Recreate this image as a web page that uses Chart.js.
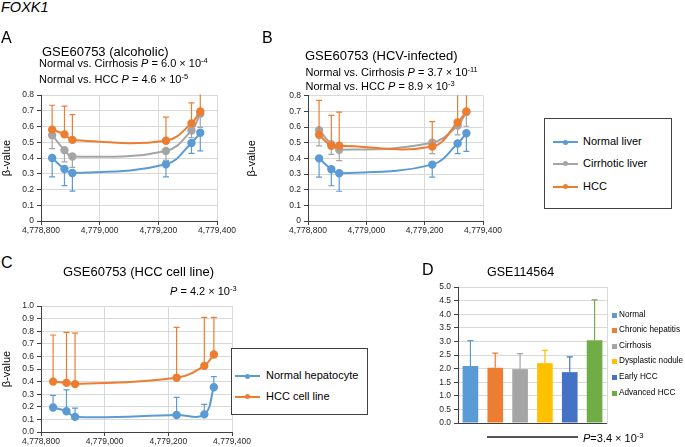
<!DOCTYPE html>
<html>
<head>
<meta charset="utf-8">
<script src="https://cdn.jsdelivr.net/npm/chart.js@4.4.0/dist/chart.umd.min.js"></script>
<style>
  body { margin: 0; background: #fff; }
  #page { position: relative; width: 685px; height: 447px; overflow: hidden; font-family: "Liberation Sans", Arial, sans-serif; color: #000; }
  canvas { position: absolute; }
  .t { position: absolute; white-space: nowrap; line-height: 1; }
  sup { font-size: 0.68em; line-height: 0; vertical-align: 0.5em; }
  .box { position: absolute; border: 1px solid #404040; background: #fff; box-sizing: border-box; }
  .item { position: absolute; line-height: 1; white-space: nowrap; }
</style>
</head>
<body>
<div id="page">
  <canvas id="cA" width="245" height="155" style="left:0;top:85px"></canvas>
  <canvas id="cB" width="265" height="155" style="left:245px;top:85px"></canvas>
  <canvas id="cC" width="258" height="151" style="left:0;top:296px"></canvas>
  <canvas id="cD" width="195" height="160" style="left:420px;top:277px"></canvas>

  <div class="t" style="left:1px;top:0;font-size:14.5px;font-style:italic">FOXK1</div>

  <div class="t" style="left:1px;top:30px;font-size:16px">A</div>
  <div class="t" style="left:42px;top:45px;font-size:13px">GSE60753 (alcoholic)</div>
  <div class="t" style="left:39px;top:57.5px;font-size:11px">Normal vs. Cirrhosis <i>P</i> = 6.0 × 10<sup>-4</sup></div>
  <div class="t" style="left:39px;top:73.5px;font-size:11px">Normal vs. HCC <i>P</i> = 4.6 × 10<sup>-5</sup></div>

  <div class="t" style="left:262px;top:30px;font-size:16px">B</div>
  <div class="t" style="left:305px;top:48.5px;font-size:13px">GSE60753 (HCV-infected)</div>
  <div class="t" style="left:305.5px;top:66.5px;font-size:11px">Normal vs. Cirrhosis <i>P</i> = 3.7 × 10<sup>-11</sup></div>
  <div class="t" style="left:305.5px;top:81px;font-size:11px">Normal vs. HCC <i>P</i> = 8.9 × 10<sup>-3</sup></div>

  <div class="t" style="left:1px;top:255px;font-size:16px">C</div>
  <div class="t" style="left:63px;top:264.5px;font-size:13px">GSE60753 (HCC cell line)</div>
  <div class="t" style="left:170px;top:286px;font-size:11px"><i>P</i> = 4.2 × 10<sup>-3</sup></div>

  <div class="t" style="left:422px;top:262px;font-size:16px">D</div>
  <div class="t" style="left:487px;top:265.5px;font-size:12.5px">GSE114564</div>
  <div style="position:absolute;left:487px;top:436px;width:91px;height:1.5px;background:#555"></div>
  <div class="t" style="left:583px;top:432.5px;font-size:11px"><i>P</i>=3.4 × 10<sup>-3</sup></div>

  <div class="box" id="legAB" style="left:544px;top:118px;width:128px;height:91px"></div>
  <div class="box" id="legC" style="left:231px;top:348px;width:137px;height:67px"></div>
  <div id="legD" style="position:absolute;left:610px;top:308px;width:75px;height:95px"></div>
</div>
<script>
// CpG positions (bp) shared by panels A-C
const positions = [4778838, 4778880, 4778907, 4779226, 4779313, 4779343];
const xTickValues = [4778800, 4779000, 4779200, 4779400];
const yTicksAB = [0, 0.1, 0.2, 0.3, 0.4, 0.5, 0.6, 0.7, 0.8];
const yTicksC = [0, 0.1, 0.2, 0.3, 0.4, 0.5, 0.6, 0.7, 0.8, 0.9, 1.0];
const yTicksD = [0, 0.5, 1, 1.5, 2, 2.5, 3, 3.5, 4, 4.5, 5];

// A: alcoholic
const normalA = [0.40, 0.33, 0.305, 0.36, 0.495, 0.56];
const normalAErr = [0.12, 0.105, 0.115, 0.08, 0.065, 0.115];
const cirrhoticA = [0.545, 0.45, 0.41, 0.445, 0.575, 0.68];
const cirrhoticAErr = [0.085, 0.075, 0.07, 0.06, 0.045, 0.085];
const hccA = [0.58, 0.55, 0.515, 0.51, 0.62, 0.695];
const hccAErr = [0.155, 0.18, 0.16, 0.15, 0.13, 0.15];

// B: HCV-infected
const normalB = [0.40, 0.33, 0.305, 0.36, 0.495, 0.56];
const normalBErr = [0.12, 0.105, 0.115, 0.08, 0.065, 0.115];
const cirrhoticB = [0.58, 0.49, 0.455, 0.50, 0.61, 0.695];
const cirrhoticBErr = [0.10, 0.065, 0.07, 0.07, 0.06, 0.09];
const hccB = [0.55, 0.48, 0.48, 0.475, 0.63, 0.70];
const hccBErr = [0.22, 0.195, 0.215, 0.16, 0.25, 0.25];

// C: cell lines
const hepatocyteC = [0.195, 0.165, 0.12, 0.135, 0.14, 0.355];
const hepatocyteCErr = [0.095, 0.17, 0.07, 0.14, 0.08, 0.085];
const cellLineC = [0.40, 0.39, 0.38, 0.43, 0.525, 0.615];
const cellLineCErr = [0.37, 0.40, 0.405, 0.40, 0.385, 0.295];

// D: GSE114564
const groups = ['Normal', 'Chronic hepatitis', 'Cirrhosis', 'Dysplastic nodule', 'Early HCC', 'Advanced HCC'];
const groupValues = [2.1, 2.03, 1.98, 2.2, 1.87, 3.04];
const groupErr = [0.93, 0.54, 0.57, 0.47, 0.56, 1.49];
const groupColors = ['#5B9BD5', '#ED7D31', '#A5A5A5', '#FFC000', '#4472C4', '#70AD47'];

const BLUE = '#5B9BD5', GRAY = '#A5A5A5', ORANGE = '#ED7D31';
const gridColor = '#d9d9d9', axisColor = '#404040', tickColor = '#262626';
const tickFont = { size: 8.5 };

Chart.defaults.font.family = '"Liberation Sans", Arial, sans-serif';

// draws one-sided error bars with each dataset
const errorBars = {
  id: 'errorBars',
  afterDatasetDraw(chart, args) {
    const ds = chart.data.datasets[args.index];
    if (!ds.err) return;
    const ctx = chart.ctx, a = chart.chartArea, y = chart.scales.y;
    ctx.save();
    ctx.beginPath();
    ctx.rect(a.left, a.top - 0.5, a.right - a.left, a.bottom - a.top + 1);
    ctx.clip();
    ctx.lineWidth = 1.2;
    args.meta.data.forEach((el, i) => {
      const raw = ds.data[i];
      const v = typeof raw === 'object' ? raw.y : raw;
      const py = y.getPixelForValue(v + ds.dir * ds.err[i]);
      const c = ds.errColor || ds.borderColor;
      ctx.strokeStyle = Array.isArray(c) ? c[i] : c;
      ctx.beginPath();
      ctx.moveTo(el.x, el.y);
      ctx.lineTo(el.x, py);
      ctx.moveTo(el.x - 3, py);
      ctx.lineTo(el.x + 3, py);
      ctx.stroke();
    });
    ctx.restore();
  }
};

function lineSet(label, values, err, dir, color, order) {
  return {
    label: label,
    order: order,
    data: positions.map((p, i) => ({ x: p, y: values[i] })),
    err: err,
    dir: dir,
    borderColor: color,
    backgroundColor: color,
    borderWidth: 2,
    pointRadius: 3.2,
    pointHoverRadius: 3.2,
    tension: 0.4
  };
}

function lineChart(id, datasets, yTicks, fmt, g) {
  return new Chart(document.getElementById(id), {
    type: 'line',
    data: { datasets: datasets },
    plugins: [errorBars],
    options: {
      responsive: false,
      animation: false,
      layout: { padding: { top: g.top, right: g.right, bottom: 0, left: 0 } },
      plugins: { legend: { display: false }, tooltip: { enabled: false } },
      scales: {
        x: {
          type: 'linear',
          min: xTickValues[0],
          max: xTickValues[xTickValues.length - 1],
          afterBuildTicks: s => { s.ticks = xTickValues.map(v => ({ value: v })); },
          afterFit: s => { s.height = g.xh; },
          grid: { color: gridColor, tickColor: axisColor, tickLength: 4 },
          border: { color: axisColor },
          ticks: { font: tickFont, color: tickColor, padding: 1, maxRotation: 0, autoSkip: false,
                   callback: v => v.toLocaleString('en-US') }
        },
        y: {
          min: yTicks[0],
          max: yTicks[yTicks.length - 1],
          afterBuildTicks: s => { s.ticks = yTicks.map(v => ({ value: v })); },
          afterFit: s => { s.width = g.yw; },
          grid: { color: gridColor, tickColor: axisColor, tickLength: 4 },
          border: { color: axisColor },
          title: { display: true, text: 'β-value', font: { size: 11 }, color: '#000', padding: 0 },
          ticks: { font: tickFont, color: tickColor, padding: 3, autoSkip: false, callback: fmt }
        }
      }
    }
  });
}

const fmtAB = v => v === 0 ? '0' : v.toFixed(1);
const fmt1 = v => v.toFixed(1);

lineChart('cA', [
  lineSet('Normal liver', normalA, normalAErr, -1, BLUE, 2),
  lineSet('Cirrhotic liver', cirrhoticA, cirrhoticAErr, -1, GRAY, 1),
  lineSet('HCC', hccA, hccAErr, 1, ORANGE, 0)
], yTicksAB, fmtAB, { top: 10, right: 28, xh: 19, yw: 41 });

lineChart('cB', [
  lineSet('Normal liver', normalB, normalBErr, -1, BLUE, 2),
  lineSet('Cirrhotic liver', cirrhoticB, cirrhoticBErr, -1, GRAY, 1),
  lineSet('HCC', hccB, hccBErr, 1, ORANGE, 0)
], yTicksAB, fmtAB, { top: 10.7, right: 27, xh: 19, yw: 63 });

lineChart('cC', [
  lineSet('Normal hepatocyte', hepatocyteC, hepatocyteCErr, 1, BLUE, 1),
  lineSet('HCC cell line', cellLineC, cellLineCErr, 1, ORANGE, 0)
], yTicksC, fmt1, { top: 10, right: 26, xh: 15, yw: 41 });

new Chart(document.getElementById('cD'), {
  type: 'bar',
  data: {
    labels: groups,
    datasets: [{
      data: groupValues,
      err: groupErr,
      dir: 1,
      backgroundColor: groupColors,
      borderColor: groupColors,
      borderWidth: 0,
      barPercentage: 0.63,
      categoryPercentage: 1
    }]
  },
  plugins: [errorBars],
  options: {
    responsive: false,
    animation: false,
    layout: { padding: { top: 10, right: 8, bottom: 0, left: 0 } },
    plugins: { legend: { display: false }, tooltip: { enabled: false } },
    scales: {
      x: {
        grid: { drawOnChartArea: false, drawTicks: false },
        border: { color: axisColor },
        ticks: { display: false },
        afterFit: s => { s.height = 14; }
      },
      y: {
        min: 0,
        max: 5,
        afterBuildTicks: s => { s.ticks = yTicksD.map(v => ({ value: v })); },
        afterFit: s => { s.width = 38; },
        grid: { color: gridColor, tickColor: axisColor, tickLength: 4 },
        border: { color: axisColor },
        ticks: { font: tickFont, color: tickColor, padding: 3, callback: fmt1 }
      },
      y2: {
        position: 'right',
        grid: { drawOnChartArea: false, drawTicks: false },
        border: { color: gridColor },
        ticks: { display: false },
        afterFit: s => { s.width = 0; }
      }
    }
  }
});

// legends
function lineLegend(boxId, names, colors, rows, lineX, textX) {
  const box = document.getElementById(boxId);
  names.forEach((n, i) => {
    const line = document.createElement('div');
    line.style.cssText = `position:absolute;left:${lineX}px;top:${rows[i] - 1}px;width:25px;height:2px;background:${colors[i]}`;
    const dot = document.createElement('div');
    dot.style.cssText = `position:absolute;left:${lineX + 10}px;top:${rows[i] - 2.5}px;width:5px;height:5px;border-radius:50%;background:${colors[i]}`;
    const label = document.createElement('div');
    label.className = 'item';
    label.style.cssText += `left:${textX}px;top:${rows[i] - 6}px;font-size:11px`;
    label.textContent = n;
    box.append(line, dot, label);
  });
}
lineLegend('legAB', ['Normal liver', 'Cirrhotic liver', 'HCC'], [BLUE, GRAY, ORANGE], [23, 44.5, 67.5], 8, 38);
lineLegend('legC', ['Normal hepatocyte', 'HCC cell line'], [BLUE, ORANGE], [27, 47.5], 3, 34);

const legD = document.getElementById('legD');
groups.forEach((n, i) => {
  const y = 7 + i * 15.6;
  const sq = document.createElement('div');
  sq.style.cssText = `position:absolute;left:2px;top:${y - 2.5}px;width:5px;height:5px;background:${groupColors[i]}`;
  const label = document.createElement('div');
  label.className = 'item';
  label.style.cssText += `left:9px;top:${y - 4.5}px;font-size:8.2px`;
  label.textContent = n;
  legD.append(sq, label);
});
</script>
</body>
</html>
